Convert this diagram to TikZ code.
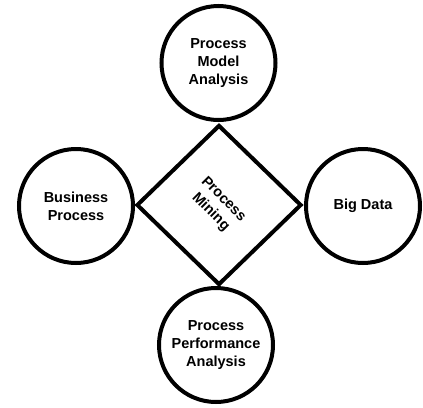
\documentclass[tikz,border=0pt]{standalone}
\usepackage{fontspec}
\setmainfont{Liberation Sans}
\usetikzlibrary{shapes.geometric}
\begin{document}
\begin{tikzpicture}[x=1pt,y=-1pt,
  topic/.style={circle,draw=black,line width=4pt,minimum size=114pt,inner sep=0pt,align=center,
    font=\fontsize{14.5}{18}\selectfont\bfseries,fill=white},
  hub/.style={diamond,draw=black,line width=4pt,minimum width=165pt,minimum height=160pt,inner sep=0pt},
  hubtext/.style={align=center,font=\fontsize{14.5}{18}\selectfont\bfseries,rotate=-45}]
\useasboundingbox (0,0) rectangle (423,407);
\node[hub] (pm) at (219,205) {};
\node[hubtext] (pmt) at (217,206) {Process\\Mining};
\node[topic] (pma) at (218.5,63) {Process\\Model\\Analysis};
\node[topic] (bp) at (76,206) {Business\\Process};
\node[topic] (bd) at (363,206) {Big Data};
\node[topic] (ppa) at (216,345) {Process\\Performance\\Analysis};
\end{tikzpicture}
\end{document}
